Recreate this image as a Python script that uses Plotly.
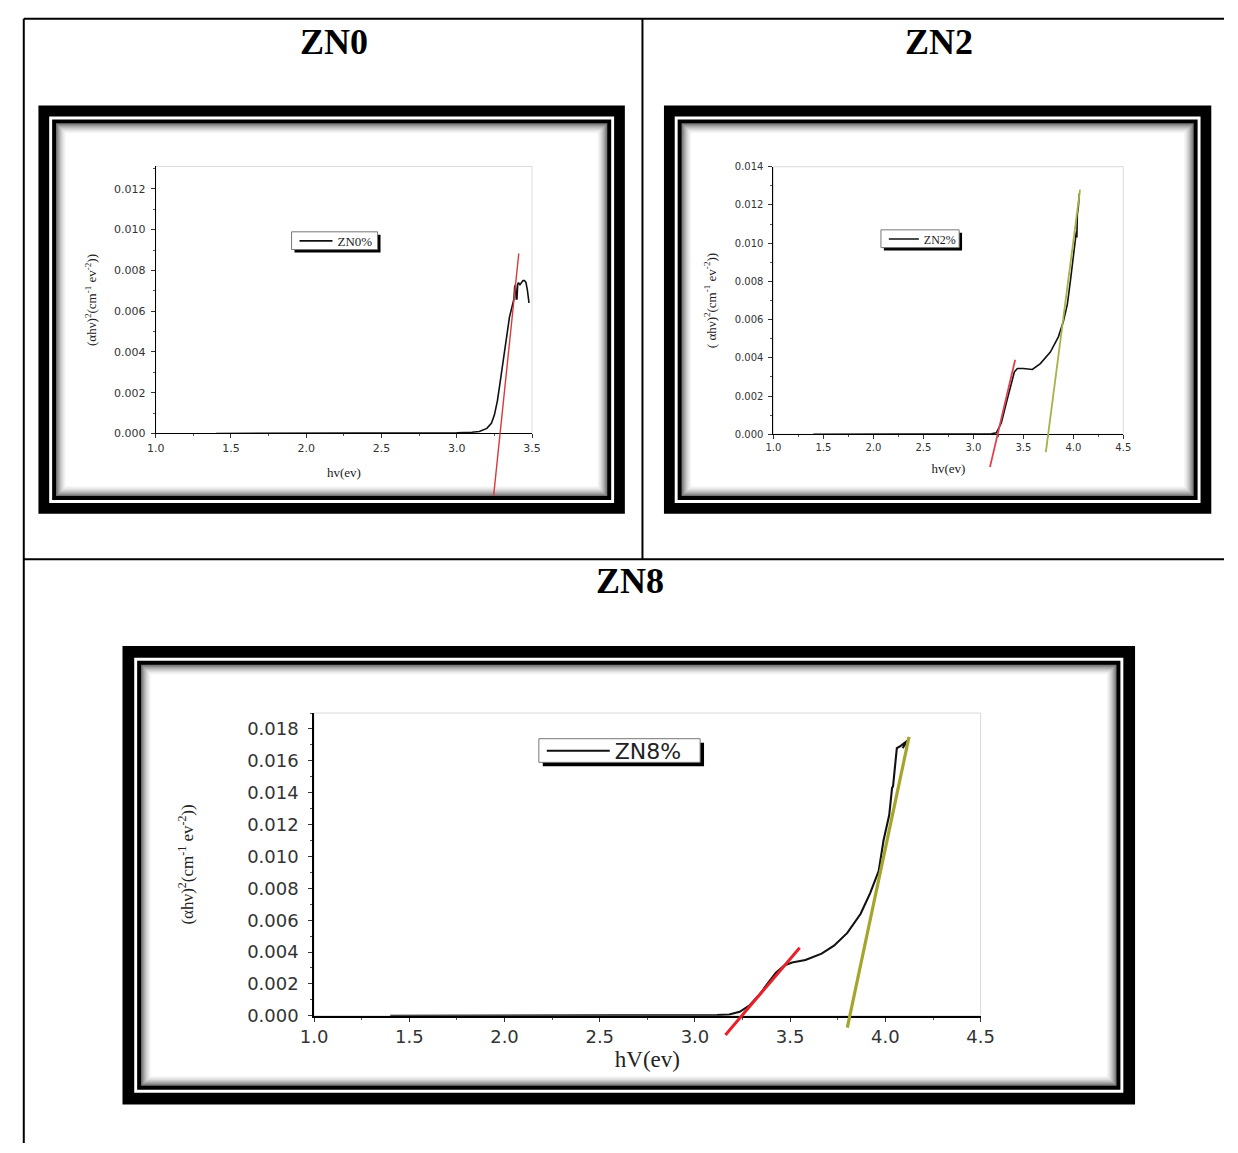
import plotly.graph_objects as go

W, H = 1238, 1153

# ---------------- data ----------------
zn0_hv = [1.40, 1.60, 2.00, 2.50, 2.80, 3.00, 3.10, 3.15, 3.20, 3.23, 3.25, 3.27, 3.29,
          3.31, 3.33, 3.35, 3.37, 3.38, 3.385, 3.39, 3.395, 3.40, 3.405, 3.41, 3.42,
          3.43, 3.44, 3.45, 3.46, 3.47, 3.48]
zn0_ahv2 = [0.0, 0.0, 0.0, 0.0, 0.00001, 0.00003, 0.00006, 0.0001, 0.00025, 0.0005,
            0.0009, 0.0016, 0.0026, 0.0037, 0.0048, 0.0057, 0.0063, 0.0066, 0.0072,
            0.0073, 0.0066, 0.0066, 0.0073, 0.0074, 0.0073, 0.0074, 0.0075, 0.0075,
            0.0074, 0.0070, 0.0064]
zn0_fit_hv = [3.245, 3.412]
zn0_fit_y = [-0.00305, 0.00883]

zn2_hv = [1.40, 2.00, 2.50, 3.00, 3.10, 3.18, 3.23, 3.28, 3.33, 3.38, 3.41, 3.44, 3.50,
          3.59, 3.67, 3.77, 3.85, 3.90, 3.94, 3.97, 4.00, 4.02, 4.03, 4.035, 4.04,
          4.05, 4.06]
zn2_ahv2 = [0.0, 0.0, 0.0, 0.00001, 0.00002, 0.00003, 0.00008, 0.0006, 0.00165,
            0.00268, 0.00326, 0.00344, 0.00344, 0.00339, 0.0037, 0.0043, 0.0051,
            0.0059, 0.0068, 0.0080, 0.0094, 0.0101, 0.0106, 0.0103, 0.0115, 0.0119,
            0.0126]
zn2_fit1_hv = [3.166, 3.418]
zn2_fit1_y = [-0.00172, 0.0039]
zn2_fit2_hv = [3.725, 4.067]
zn2_fit2_y = [-0.00094, 0.0128]

zn8_hv = [1.40, 2.00, 2.50, 3.00, 3.115, 3.18, 3.235, 3.287, 3.338, 3.38, 3.425,
          3.468, 3.51, 3.58, 3.665, 3.73, 3.80, 3.87, 3.92, 3.965, 3.99, 4.02,
          4.035, 4.04, 4.06, 4.075, 4.12, 4.09]
zn8_ahv2 = [0.0, 0.0, 0.0, 0.00002, 0.00004, 0.00008, 0.00025, 0.00066, 0.00132,
            0.0020, 0.0027, 0.00315, 0.00334, 0.0035, 0.0039, 0.0044, 0.0052, 0.0064,
            0.0077, 0.0091, 0.0110, 0.0126, 0.0143, 0.0144, 0.0168, 0.0169, 0.0173,
            0.0168]
zn8_fit1_hv = [3.16, 3.55]
zn8_fit1_y = [-0.0012, 0.00427]
zn8_fit2_hv = [3.80, 4.124]
zn8_fit2_y = [-0.00074, 0.0175]

x_ticks_zn0 = [1.0, 1.5, 2.0, 2.5, 3.0, 3.5]
x_ticks_wide = [1.0, 1.5, 2.0, 2.5, 3.0, 3.5, 4.0, 4.5]
y_ticks_zn0 = [0.000, 0.002, 0.004, 0.006, 0.008, 0.010, 0.012]
y_ticks_zn2 = [0.000, 0.002, 0.004, 0.006, 0.008, 0.010, 0.012, 0.014]
y_ticks_zn8 = [0.000, 0.002, 0.004, 0.006, 0.008, 0.010, 0.012, 0.014, 0.016, 0.018]

titles = ["ZN0", "ZN2", "ZN8"]
legend_names = ["ZN0%", "ZN2%", "ZN8%"]

# ---------------- helpers (page pixels -> paper) ----------------
def px_x(x):
    return x / W


def px_y(y):
    return 1 - y / H


shapes = []
annotations = []


def rect(x0, y0, x1, y1, fill, layer="below", line=None):
    d = dict(type="rect", xref="paper", yref="paper",
             x0=px_x(x0), x1=px_x(x1), y0=px_y(y1), y1=px_y(y0),
             fillcolor=fill, layer=layer)
    d["line"] = line if line else dict(width=0)
    shapes.append(d)


def hline(x0, x1, y, w=2):
    shapes.append(dict(type="line", xref="paper", yref="paper",
                       x0=px_x(x0), x1=px_x(x1), y0=px_y(y), y1=px_y(y),
                       line=dict(color="black", width=w), layer="below"))


def vline(x, y0, y1, w=2):
    shapes.append(dict(type="line", xref="paper", yref="paper",
                       x0=px_x(x), x1=px_x(x), y0=px_y(y0), y1=px_y(y1),
                       line=dict(color="black", width=w), layer="below"))


GRAYS = ["#747474", "#888888", "#9c9c9c", "#aeaeae", "#bfbfbf", "#cecece",
         "#dbdbdb", "#e6e6e6", "#efefef", "#f7f7f7"]


def frame(x0, y0, x1, y1, t=11):
    rect(x0, y0, x1, y1, "black")
    rect(x0 + t, y0 + t, x1 - t, y1 - t, "white")
    rect(x0 + t + 3, y0 + t + 3, x1 - t - 3, y1 - t - 3, "black")
    inner = t + 3 + 4
    for i, g in enumerate(GRAYS):
        k = inner + i
        rect(x0 + k, y0 + k, x1 - k, y1 - k, g)
    k = inner + len(GRAYS)
    rect(x0 + k, y0 + k, x1 - k, y1 - k, "white")


# table lines
hline(10, W, 13)
vline(10, 13, H)
vline(643, 13, 561)
hline(10, W, 561)

# frames
frame(25, 101, 625, 515, 11)
frame(665, 101, 1225, 515, 11)
frame(111, 649, 1147, 1114, 12)

# titles
for txt, cx, cy in [(titles[0], 327, 36), (titles[1], 946, 36), (titles[2], 630, 583)]:
    annotations.append(dict(text="<b>%s</b>" % txt, x=px_x(cx), y=px_y(cy), xref="paper",
                            yref="paper", showarrow=False, xanchor="center", yanchor="middle",
                            font=dict(family="Liberation Serif", size=36, color="black")))

fig = go.Figure()

layout = dict(width=W, height=H, margin=dict(l=0, r=0, t=0, b=0),
              paper_bgcolor="white", plot_bgcolor="rgba(0,0,0,0)", showlegend=True)

# panel geometry (page pixels): left, right, top, zero-line, clip bottom
panels = [
    dict(l=145, r=530, t=162.7, z=433.5, cb=497, xr=[1.0, 3.5], ytop=0.0131,
         xt=x_ticks_zn0, yt=y_ticks_zn0, tfs=11, xtfs=13, ytfs=13, tfam="DejaVu Sans",
         xtitle="hv(ev)", ytitle="(αhν)<sup>2</sup>(cm<sup>-1</sup> ev<sup>-2</sup>))",
         lw=1, st_x=14, st_y=14, tls=3),
    dict(l=777, r=1135, t=163, z=434.3, cb=497, xr=[1.0, 4.5], ytop=0.014,
         xt=x_ticks_wide, yt=y_ticks_zn2, tfs=10, xtfs=13, ytfs=13, tfam="DejaVu Sans",
         xtitle="hv(ev)", ytitle="( αhν)<sup>2</sup>(cm<sup>-1</sup> ev<sup>-2</sup>))",
         lw=1, st_x=11, st_y=15, tls=3),
    dict(l=307, r=989, t=717, z=1024, cb=1096, xr=[1.0, 4.5], ytop=0.019,
         xt=x_ticks_wide, yt=y_ticks_zn8, tfs=18, xtfs=23, ytfs=17, tfam="DejaVu Sans",
         xtitle="hV(ev)", ytitle="(αhν)<sup>2</sup>(cm<sup>-1</sup> ev<sup>-2</sup>))",
         lw=1.5, st_x=5, st_y=49, tls=6),
]

curves = [(zn0_hv, zn0_ahv2), (zn2_hv, zn2_ahv2), (zn8_hv, zn8_ahv2)]
fits = [
    [(zn0_fit_hv, zn0_fit_y, "#d83a3a", 1.4)],
    [(zn2_fit1_hv, zn2_fit1_y, "#e04050", 1.8), (zn2_fit2_hv, zn2_fit2_y, "#a9b04a", 1.8)],
    [(zn8_fit1_hv, zn8_fit1_y, "#e8202a", 3), (zn8_fit2_hv, zn8_fit2_y, "#a4a62c", 3.2)],
]
# legend boxes in page pixels: box (l, t, r, b), shadow offset, symbol width, font
legend_boxes = [
    dict(l=284, t=229, r=372, b=247, sh=3, iw=33, fs=13, fam="Liberation Serif"),
    dict(l=887, t=227, r=967, b=245, sh=3, iw=30, fs=12, fam="Liberation Serif"),
    dict(l=537, t=743, r=702, b=767, sh=4, iw=63, fs=22, fam="DejaVu Sans"),
]

for i, p in enumerate(panels):
    a = 2 * i + 1
    b = 2 * i + 2
    xa = "x" if a == 1 else "x%d" % a
    ya = "y" if a == 1 else "y%d" % a
    xb = "x%d" % b
    yb = "y%d" % b
    ppu = (p["z"] - p["t"]) / p["ytop"]
    ybot = -(p["cb"] - p["z"]) / ppu
    xdom = [px_x(p["l"]), px_x(p["r"])]
    tickfont = dict(family=p["tfam"], size=p["tfs"], color="#333")
    layout["xaxis" if a == 1 else "xaxis%d" % a] = dict(
        domain=xdom, range=p["xr"], anchor=ya, tickvals=p["xt"], tickformat=".1f",
        showline=True, linecolor="black", linewidth=p["lw"], mirror=False,
        ticks="outside", ticklen=4, tickcolor="#333", showgrid=False, zeroline=False,
        minor=dict(ticks="outside", ticklen=2, dtick=0.25, tick0=1.0, tickcolor="#555"),
        tickfont=tickfont,
        title=dict(text=p["xtitle"], standoff=p["st_x"],
                   font=dict(family="Liberation Serif", size=p["xtfs"], color="#222")),
        fixedrange=True)
    layout["yaxis" if a == 1 else "yaxis%d" % a] = dict(
        domain=[px_y(p["z"]), px_y(p["t"])], range=[0, p["ytop"]], anchor=xa,
        tickvals=p["yt"], tickformat=".3f",
        showline=True, linecolor="black", linewidth=p["lw"], mirror=False,
        ticks="outside", ticklen=4, tickcolor="#333", showgrid=False, zeroline=False,
        ticklabelstandoff=p["tls"],
        minor=dict(ticks="outside", ticklen=2, dtick=0.001, tick0=0, tickcolor="#555"),
        tickfont=tickfont,
        title=dict(text=p["ytitle"], standoff=p["st_y"],
                   font=dict(family="Liberation Serif", size=p["ytfs"], color="#222")),
        fixedrange=True)
    layout["xaxis%d" % b] = dict(domain=xdom, range=p["xr"], anchor=yb, visible=False,
                                 fixedrange=True)
    layout["yaxis%d" % b] = dict(domain=[px_y(p["cb"]), px_y(p["t"])],
                                 range=[ybot, p["ytop"]], anchor=xb, visible=False,
                                 fixedrange=True)
    # light box (top / right border of the plot area)
    shapes.append(dict(type="rect", xref="%s domain" % xa, yref="%s domain" % ya,
                       x0=0, x1=1, y0=0, y1=1, line=dict(color="#dadada", width=1),
                       layer="below"))
    # legend box with drop shadow
    lb = legend_boxes[i]
    s = lb["sh"]
    rect(lb["l"] + s, lb["t"] + s, lb["r"] + s, lb["b"] + s, "black")
    rect(lb["l"], lb["t"], lb["r"], lb["b"], "white", line=dict(color="#777", width=1))
    lg = "legend" if i == 0 else "legend%d" % (i + 1)
    cy = (lb["t"] + lb["b"]) / 2
    item_h = max(1.3 * lb["fs"], 16) + 3
    layout[lg] = dict(x=px_x(lb["l"] + 3), y=px_y(cy - 5 - item_h / 2),
                      xanchor="left", yanchor="top",
                      bgcolor="rgba(0,0,0,0)", borderwidth=0,
                      font=dict(family=lb["fam"], size=lb["fs"], color="#222"),
                      itemwidth=lb["iw"], tracegroupgap=0)
    hx, hy = curves[i]
    fig.add_trace(go.Scatter(x=hx, y=hy, xaxis=xa, yaxis=ya, mode="lines",
                             name=legend_names[i], legend=lg,
                             line=dict(color="#111", width=p["lw"] + 0.6)))
    for fx, fy, col, w in fits[i]:
        fig.add_trace(go.Scatter(x=fx, y=fy, xaxis=xb, yaxis=yb, mode="lines",
                                 showlegend=False, line=dict(color=col, width=w)))

layout["shapes"] = shapes
layout["annotations"] = annotations
fig.update_layout(**layout)
fig.write_html("out.html")
